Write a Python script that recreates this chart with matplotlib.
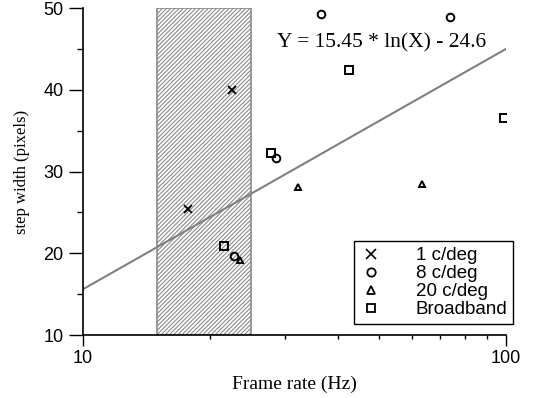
import numpy as np
import matplotlib.pyplot as plt
from matplotlib.lines import Line2D

# data
x_1cpd = [17.7, 22.5]
y_1cpd = [25.4, 40.0]
x_8cpd = [22.8, 28.6, 36.6, 73.7]
y_8cpd = [19.7, 31.6, 49.3, 48.9]
x_20cpd = [23.5, 32.2, 63.2]
y_20cpd = [19.2, 28.1, 28.5]
x_broad = [21.6, 27.9, 42.6, 98.8]
y_broad = [20.9, 32.3, 42.4, 36.5]

fit_x = [10, 100]
fit_y = [15.6, 45.0]
band = (15, 25)

serif = ['Liberation Serif', 'DejaVu Serif']
sans = ['Liberation Sans', 'DejaVu Sans']
plt.rcParams['font.family'] = sans
plt.rcParams['hatch.color'] = '#8a8a8a'
plt.rcParams['hatch.linewidth'] = 0.8

fig = plt.figure(figsize=(5.46, 3.98), dpi=100)
ax = fig.add_axes([83/546, 1 - 335/398, 423/546, 327/398])

ax.axvspan(band[0], band[1], facecolor='white', edgecolor='#8a8a8a',
           hatch='////////', linewidth=1.2, zorder=1)

ax.plot(fit_x, fit_y, color='#808080', linewidth=1.5, zorder=2)

kw = dict(linestyle='none', color='black', markerfacecolor='none', zorder=3)
ax.plot(x_1cpd, y_1cpd, marker='x', markersize=5.5, markeredgewidth=1.3, **kw)
ax.plot(x_8cpd, y_8cpd, marker='o', markersize=5.5, markeredgewidth=1.4, **kw)
ax.plot(x_20cpd, y_20cpd, marker='^', markersize=5, markeredgewidth=1.4, **kw)
ax.plot(x_broad, y_broad, marker='s', markersize=5.5, markeredgewidth=1.4, **kw)

ax.text(50.9, 45.7, 'Y = 15.45 * ln(X) - 24.6', family=serif, fontsize=15.5,
        ha='center', va='center')

ax.set_xscale('log')
ax.set_xlim(10, 100)
ax.set_ylim(10, 50)
ax.set_xticks([10, 100])
ax.set_xticklabels(['10', '100'])
ax.set_xticks([20, 30, 40, 50, 60, 70, 80, 90], minor=True)
ax.xaxis.set_minor_formatter(plt.NullFormatter())
ax.set_yticks([10, 20, 30, 40, 50])
ax.set_yticks([15, 25, 35, 45], minor=True)
ax.tick_params(axis='both', which='major', labelsize=13, width=1)
ax.tick_params(axis='y', which='major', length=10, pad=4)
ax.tick_params(axis='y', which='minor', length=4.5, width=1)
ax.tick_params(axis='x', which='major', length=8, pad=3)
ax.tick_params(axis='x', which='minor', length=3, width=1)

for s in ['top', 'right']:
    ax.spines[s].set_visible(False)
for s in ['left', 'bottom']:
    ax.spines[s].set_linewidth(1.2)

ax.set_xlabel('Frame rate (Hz)', family=serif, fontsize=14, labelpad=6)
ax.set_ylabel('step width (pixels)', family=serif, fontsize=12, labelpad=10)

handles = [
    Line2D([], [], marker='x', markersize=7, markeredgewidth=1.2, **kw),
    Line2D([], [], marker='o', markersize=6, markeredgewidth=1.3, **kw),
    Line2D([], [], marker='^', markersize=6, markeredgewidth=1.3, **kw),
    Line2D([], [], marker='s', markersize=6, markeredgewidth=1.3, **kw),
]
labels = ['1 c/deg', '8 c/deg', '20 c/deg', 'Broadband']
leg = ax.legend(handles, labels, loc='lower right',
                bbox_to_anchor=(513/546, 74/398), bbox_transform=fig.transFigure,
                borderaxespad=0, fancybox=False, framealpha=1, edgecolor='black',
                fontsize=13.5, handlelength=1.2, handletextpad=1.8,
                labelspacing=0.05, borderpad=0.3)
leg.get_frame().set_linewidth(1.0)

fig.savefig('out.png', dpi=100)
